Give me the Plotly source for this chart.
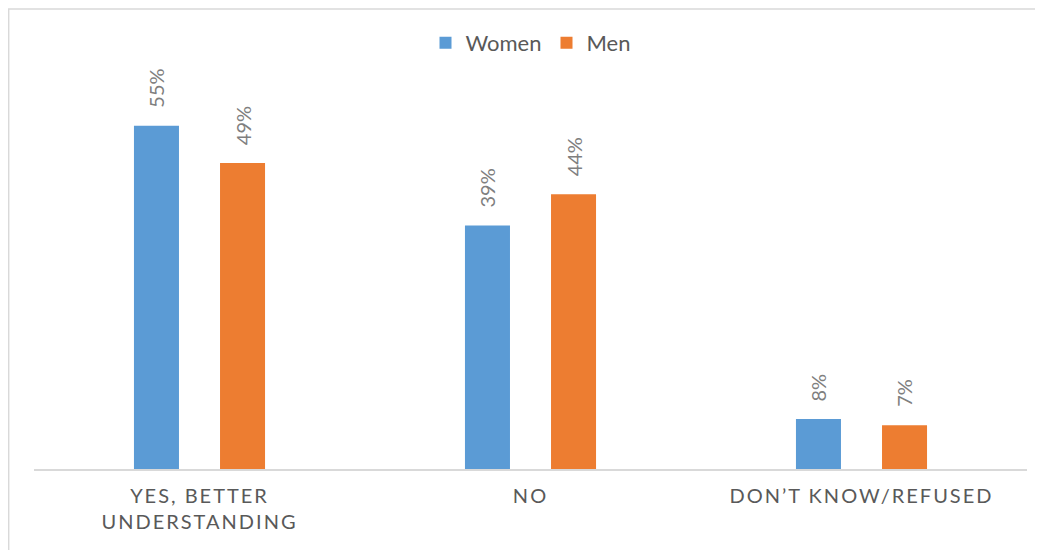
import plotly.graph_objects as go

categories = ["YES, BETTER<br>UNDERSTANDING", "NO", "DON\u2019T KNOW/REFUSED"]
women = [55, 39, 8]
men = [49, 44, 7]
series_names = ["Women", "Men"]
colors = ["#5B9BD5", "#ED7D31"]

FONT = "Lato, Carlito, Calibri, sans-serif"

def spaced(t):
    return '<span style="letter-spacing:2px">' + t.replace("<br>", '</span><br><span style="letter-spacing:2px">') + "</span>"

tick_text = [spaced(c) for c in categories]
idx = list(range(len(categories)))

fig = go.Figure()
bar_w = 0.136
offsets = [-0.198, 0.062]
for name, vals, col, off in zip(series_names, [women, men], colors, offsets):
    fig.add_trace(go.Bar(
        x=idx, y=vals, name=name, marker=dict(color=col, line=dict(width=0)),
        width=bar_w, offset=off, hoverinfo="skip",
    ))
    for i, v in zip(idx, vals):
        fig.add_annotation(
            x=i + off + bar_w / 2, y=v, text=f"{v}%", showarrow=False,
            textangle=-90, yanchor="bottom", xanchor="center", yshift=16,
            font=dict(family=FONT, size=20, color="#7F7F7F"),
        )

# page body has an 8px margin, so the figure is laid out 8px up/left
fig.add_shape(type="rect", xref="paper", yref="paper",
              x0=-0.0255, x1=1.05, y0=-0.3, y1=1.1165,
              line=dict(color="#D9D9D9", width=1.5), fillcolor="rgba(0,0,0,0)", layer="below")

fig.update_layout(
    width=1043, height=550,
    margin=dict(l=26, r=24, t=49, b=89),
    paper_bgcolor="white", plot_bgcolor="white",
    font=dict(family=FONT, color="#595959"),
    barmode="overlay",
    showlegend=True,
    legend=dict(orientation="h", x=0.5, xanchor="center", y=1.034, yanchor="middle",
                font=dict(family=FONT, size=22, color="#595959"),
                itemwidth=30, bgcolor="rgba(0,0,0,0)"),
    xaxis=dict(range=[-0.5, 2.5], tickmode="array", tickvals=idx, ticktext=tick_text,
               showline=True, linecolor="#D9D9D9", linewidth=1.5, showgrid=False,
               zeroline=False, ticks="", ticklabelstandoff=8,
               tickfont=dict(family=FONT, size=20, color="#595959")),
    yaxis=dict(range=[0, 66], visible=False, showgrid=False, zeroline=False),
)

fig.write_html("out.html")
